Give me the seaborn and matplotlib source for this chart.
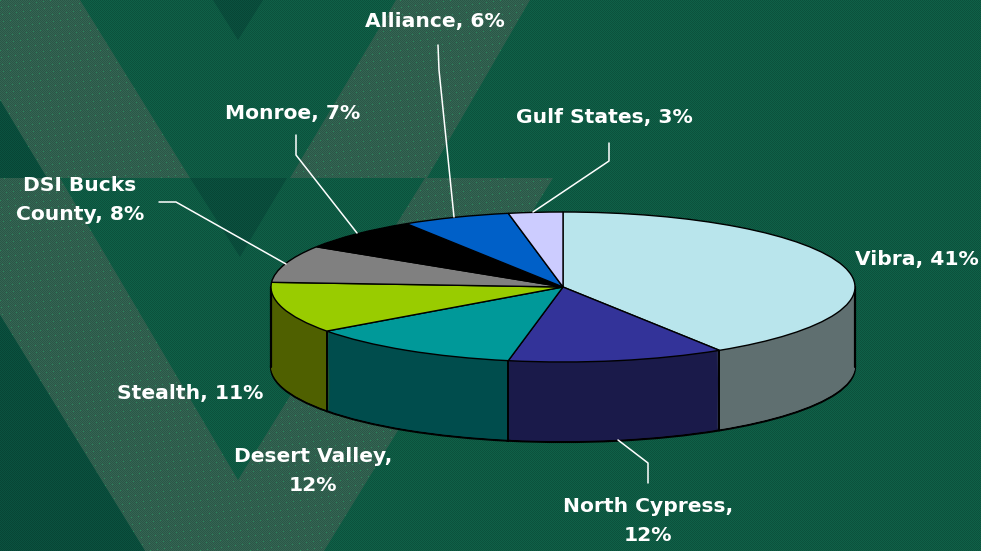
import numpy as np
import matplotlib.pyplot as plt
from matplotlib.patches import Polygon, PathPatch
from matplotlib.path import Path
import seaborn as sns

# values of the chart
categories = ['Vibra', 'North Cypress', 'Desert Valley', 'Stealth',
              'DSI Bucks County', 'Monroe', 'Alliance', 'Gulf States']
shares = [41, 12, 12, 11, 8, 7, 6, 3]
top_colors = ['#b9e5ec', '#333399', '#009999', '#99cc00',
              '#808080', '#000000', '#0060c8', '#ccccff']
side_colors = ['#5f6f70', '#1a1a4a', '#004d4d', '#4f6000',
               '#404040', '#000000', '#003064', '#666680']
label_texts = ['Vibra, 41%', 'North Cypress,\n12%', 'Desert Valley,\n12%', 'Stealth, 11%',
               'DSI Bucks\nCounty, 8%', 'Monroe, 7%', 'Alliance, 6%', 'Gulf States, 3%']

# label centres and leader lines in pixels
label_xy = [(917, 259), (648, 521), (313, 471), (190, 393),
            (80, 200), (293, 113), (435, 22), (604, 118)]
leaders = [None,
           [(648, 483), (648, 463), (618, 440)],
           None,
           None,
           [(159, 202), (176, 202), (286, 264)],
           [(296, 135), (296, 155), (357, 233)],
           [(438, 45), (439, 70), (454, 217)],
           [(609, 143), (609, 161), (533, 212)]]

W, H = 981, 551
CX, CY, RX, RY, DEPTH = 563, 287, 292, 75, 80

sns.set_theme(style='white')
plt.rcParams['font.family'] = ['DejaVu Sans']

fig = plt.figure(figsize=(W / 100, H / 100), dpi=100)

# background with the big V shapes
bg = fig.add_axes([0, 0, 1, 1])
bg.set_xlim(0, W)
bg.set_ylim(H, 0)
bg.axis('off')
bg.add_patch(Polygon([(0, 0), (W, 0), (W, H), (0, H)], color='#0f6148', lw=0))

light_shapes = [
    [(0, 0), (80, 0), (190, 178), (47, 178), (0, 100)],
    [(396, 0), (530, 0), (427, 178), (290, 178)],
    [(0, 178), (60, 178), (238, 480), (425, 178), (553, 178), (324, 551), (145, 551), (0, 315)],
]
dark_shapes = [
    [(213, 0), (263, 0), (238, 40)],
    [(190, 178), (287, 178), (240, 257)],
    [(0, 100), (47, 178), (0, 178)],
    [(0, 315), (145, 551), (0, 551)],
]
for pts in light_shapes:
    bg.add_patch(Polygon(pts, color='#346654', lw=0))
for pts in dark_shapes:
    bg.add_patch(Polygon(pts, color='#0a5240', lw=0))

# dither texture
yy, xx = np.mgrid[0:H, 0:W]
tex = np.zeros((H, W, 4))
tex[..., 3] = np.where((xx + yy) % 2 == 0, 0.16, 0.0)
bg.imshow(tex, extent=(0, W, H, 0), aspect='auto', interpolation='nearest', zorder=3)

# green dots, only on the light shapes
dots = np.zeros((H, W, 4))
dots[..., 0], dots[..., 1], dots[..., 2] = 0.15, 0.55, 0.36
dots[..., 3] = np.where((xx + 7 * yy) % 50 == 0, 0.9, 0.0)
im = bg.imshow(dots, extent=(0, W, H, 0), aspect='auto', interpolation='nearest', zorder=4)
clip_path = Path.make_compound_path(*[Path(p + [p[0]], closed=True) for p in light_shapes])
im.set_clip_path(PathPatch(clip_path, transform=bg.transData))
bg.set_xlim(0, W)
bg.set_ylim(H, 0)

# pie: radius 1 in data units, squashed by the axes limits
ax = fig.add_axes([0, 0, 1, 1])
ax.patch.set_alpha(0)
depth = DEPTH / RY
side_pal = sns.color_palette(side_colors)
top_pal = sns.color_palette(top_colors)

# stacked copies make the wall
ax.pie(shares, colors=side_pal, startangle=90, counterclock=False, center=(0, -depth),
       wedgeprops={'edgecolor': 'black', 'linewidth': 1.6})
for d in np.linspace(depth, 0, DEPTH)[1:-1]:
    ax.pie(shares, colors=side_pal, startangle=90, counterclock=False, center=(0, -d),
           wedgeprops={'linewidth': 0})

# walls get split by vertical lines at the slice borders
angles = 90 - np.cumsum(shares) / np.sum(shares) * 360
for a in angles:
    x, y = np.cos(np.radians(a)), np.sin(np.radians(a))
    if y < 0:
        ax.plot([x, x], [y, y - depth], color='black', lw=1.4, zorder=5)
for x in (-1, 1):
    ax.plot([x, x], [0, -depth], color='black', lw=1.6, zorder=5)

ax.pie(shares, colors=top_pal, startangle=90, counterclock=False,
       wedgeprops={'edgecolor': 'black', 'linewidth': 1.0, 'zorder': 6})
ax.set_aspect('auto')
ax.set_xlim(-CX / RX, (W - CX) / RX)
ax.set_ylim(-(H - CY) / RY, CY / RY)

# labels and leader lines in pixel coordinates
top = fig.add_axes([0, 0, 1, 1])
top.patch.set_alpha(0)
top.set_xlim(0, W)
top.set_ylim(H, 0)
top.axis('off')
for name, text, (x, y), leader in zip(categories, label_texts, label_xy, leaders):
    top.text(x, y, text, color='white', fontsize=14.6, fontweight='bold',
             ha='center', va='center', linespacing=1.68, gid=name)
    if leader:
        top.plot(*zip(*leader), color='white', lw=1.1)

fig.savefig('out.png', dpi=100)
